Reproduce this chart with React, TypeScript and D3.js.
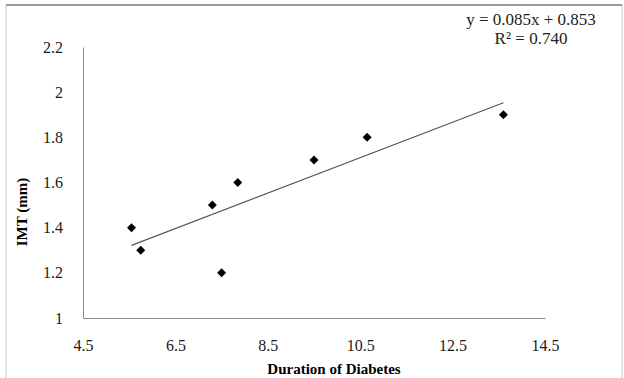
import React, { useEffect, useRef } from "react";
import * as d3 from "d3";

// duration of diabetes (years) vs IMT (mm)
const duration = [5.55, 5.75, 7.3, 7.5, 7.85, 9.5, 10.65, 13.6];
const imt = [1.4, 1.3, 1.5, 1.2, 1.6, 1.7, 1.8, 1.9];
const xTicks = [4.5, 6.5, 8.5, 10.5, 12.5, 14.5];
const yTicks = [1, 1.2, 1.4, 1.6, 1.8, 2, 2.2];
const equationText = ["y = 0.085x + 0.853", "R² = 0.740"];

const width = 624;
const height = 378;
const margin = { top: 47, right: 79, bottom: 60, left: 83 };

const App = () => {
  const ref = useRef<SVGSVGElement>(null);

  useEffect(() => {
    const svg = d3.select(ref.current);
    svg.selectAll("*").remove();

    const x = d3.scaleLinear().domain([4.5, 14.5]).range([margin.left, width - margin.right]);
    const y = d3.scaleLinear().domain([1, 2.2]).range([height - margin.bottom, margin.top]);

    // frame
    svg.append("rect")
      .attr("x", 6).attr("y", 5).attr("width", 616).attr("height", 380)
      .attr("fill", "white").attr("stroke", "#c8c8c8");
    svg.append("line")
      .attr("x1", 6).attr("x2", 622).attr("y1", 5).attr("y2", 5)
      .attr("stroke", "#999").attr("stroke-width", 2);

    const font = "'Liberation Serif', serif";

    const xAxis = svg.append("g")
      .attr("transform", `translate(0, ${height - margin.bottom})`)
      .call(d3.axisBottom(x).tickValues(xTicks).tickSize(0).tickPadding(22).tickFormat(d3.format("")));
    const yAxis = svg.append("g")
      .attr("transform", `translate(${margin.left}, 0)`)
      .call(d3.axisLeft(y).tickValues(yTicks).tickSize(0).tickPadding(20).tickFormat(d3.format("")));

    [xAxis, yAxis].forEach((g) => {
      g.select(".domain").attr("stroke", "#8c8c8c").attr("stroke-width", 1);
      g.selectAll("text")
        .attr("font-family", font)
        .attr("font-size", 16)
        .attr("fill", "#1a1a1a");
    });

    // trend line from least squares
    const mx = d3.mean(duration)!;
    const my = d3.mean(imt)!;
    const sxy = d3.sum(duration, (d, i) => (d - mx) * (imt[i] - my));
    const sxx = d3.sum(duration, (d) => (d - mx) ** 2);
    const slope = sxy / sxx;
    const icpt = my - slope * mx;
    const [x0, x1] = d3.extent(duration) as [number, number];
    svg.append("line")
      .attr("x1", x(x0)).attr("y1", y(icpt + slope * x0))
      .attr("x2", x(x1)).attr("y2", y(icpt + slope * x1))
      .attr("stroke", "#555").attr("stroke-width", 1.1);

    const diamond = d3.symbol().type(d3.symbolSquare).size(40);
    svg.selectAll(".pt")
      .data(duration)
      .enter()
      .append("path")
      .attr("class", "pt")
      .attr("d", diamond)
      .attr("transform", (d, i) => `translate(${x(d)}, ${y(imt[i])}) rotate(45)`)
      .attr("fill", "#000");

    svg.append("text")
      .attr("x", 334).attr("y", 374)
      .attr("text-anchor", "middle")
      .attr("font-family", font).attr("font-weight", "bold").attr("font-size", 15)
      .text("Duration of Diabetes");

    svg.append("text")
      .attr("transform", "translate(27, 212) rotate(-90)")
      .attr("text-anchor", "middle")
      .attr("font-family", font).attr("font-weight", "bold").attr("font-size", 15)
      .text("IMT (mm)");

    svg.selectAll(".eq")
      .data(equationText)
      .enter()
      .append("text")
      .attr("class", "eq")
      .attr("x", 531)
      .attr("y", (d, i) => 25 + i * 19)
      .attr("text-anchor", "middle")
      .attr("font-family", font).attr("font-size", 17).attr("fill", "#222")
      .text((d) => d);
  }, []);

  return (
    <svg
      ref={ref}
      width={width}
      height={height}
      style={{ position: "absolute", left: 0, top: 0 }}
    ></svg>
  );
};

export default App;
